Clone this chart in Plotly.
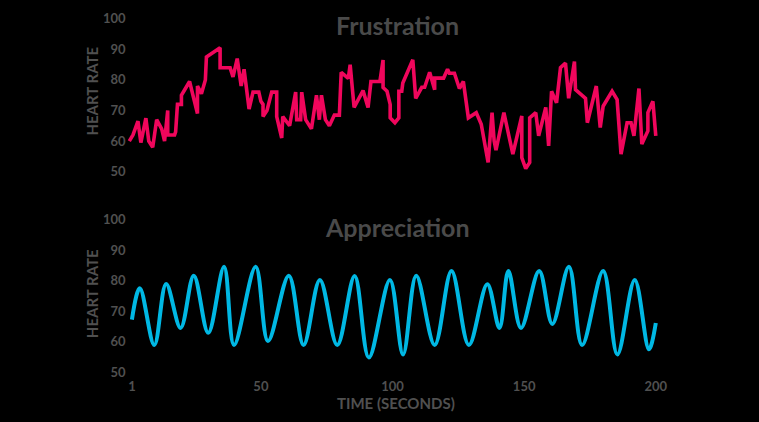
import plotly.graph_objects as go
from plotly.subplots import make_subplots

# ---- data ----
frus_t = [0, 1.4, 3.3, 4.4, 6.3, 7.4, 8.9, 10.4, 12.3, 13.4, 14.6, 14.6, 17.2, 17.6, 18.3, 19.8, 19.8,
          22.9, 25.9, 25.9, 27.4, 28.9, 29.3, 34.5, 34.5, 38.3, 39.4, 41, 42.5, 43.6, 45.5, 47, 49.2,
          50, 50.8, 50.8, 52.3, 54.1, 56, 56, 57.9, 58.3, 60.9, 63.2, 63.6, 65.1, 65.5, 67, 69.2, 71.1,
          72.2, 73, 74.5, 76, 77.9, 79.8, 80.5, 83.2, 83.9, 85.4, 88.8, 90.7, 91.8, 95.2, 96.4, 96.4,
          97.9, 99.1, 99.1, 100.9, 102.4, 102.4, 103.5, 103.9, 107.7, 108.8, 111.1, 112.2, 114.1, 116,
          116, 119.4, 120.9, 121.6, 123.5, 125.4, 126.9, 128.8, 131.8, 133.7, 136.3, 137.8, 138.6,
          139.3, 142.3, 145.7, 149.1, 149.1, 150.6, 152.1, 152.1, 154.4, 155.5, 158.2, 159.3, 160.4,
          162.3, 163.8, 165.7, 166.9, 169.1, 169.5, 173.3, 174, 177.4, 178.9, 180, 183.4, 185.3, 186.8,
          189.1, 190.6, 191.7, 193.6, 194.7, 197, 197, 198.9, 200]
frus_hr = [60, 62, 66.5, 59.5, 67.5, 60, 58, 67, 64, 60, 70, 62, 62, 63, 72, 72, 75,
           79.5, 69, 78, 75.5, 80, 87.5, 90.5, 84, 84, 81, 87, 78, 83.5, 70.5, 76, 76,
           73, 72, 68, 70, 76, 76, 68, 61, 68, 65, 76, 67, 67, 76, 67, 64, 75,
           67, 75, 67, 65, 68.5, 68.5, 82.5, 80.5, 85, 71, 76.5, 71, 79.5, 79.5, 86.5, 77.5,
           76.3, 72, 67.6, 66, 67.6, 76.3, 76.3, 79, 86.6, 74, 77.6, 77.6, 82.5, 76.8,
           80.6, 80.6, 83.5, 82.2, 82.2, 77.2, 79.5, 67.6, 69.3, 65.5, 53, 69.3, 60,
           57, 69.3, 55.7, 68.2, 54.6, 51, 53, 67.6, 69.3, 61.7, 71, 58.4, 76.3,
           72.5, 84, 85.5, 74, 86, 76.8, 74, 66, 78, 64.4, 71.4, 76.3, 73.6, 55.7,
           66, 66, 61.7, 77.2, 59, 63.3, 69.3, 73, 61.7]

appr_t = [1, 4, 9.5, 14, 19.5, 24.5, 30, 36, 39.8, 48, 52.7, 60.6, 66.2, 72.4, 79, 85.6, 91, 99,
          104, 109, 116, 122.4, 129, 136, 140.6, 144, 148.8, 155.7, 160.7, 167, 172, 180, 185.4,
          192, 197.4, 200]
appr_hr = [67.2, 77.5, 58.9, 78.9, 64.5, 81.6, 62.9, 84.5, 58.9, 84.5, 60.2, 81.6, 58.9, 80.2,
           58.9, 81.5, 54.8, 80.2, 55.8, 81.6, 58.9, 83.1, 58.9, 78.8, 64.5, 83.1, 64.5, 83.1,
           65.8, 84.5, 58.9, 83.1, 55.8, 80.2, 57.5, 66.1]

x_ticks = [1, 50, 100, 150, 200]
y_ticks = [50, 60, 70, 80, 90, 100]
titles = ["Frustration", "Appreciation"]
y_title = "HEART RATE"
x_title = "TIME (SECONDS)"

PINK = "#F0065C"
CYAN = "#00B8E4"
GRAY = "#505050"
FONT = "Lato"

fig = make_subplots(rows=2, cols=1)

fig.add_trace(go.Scatter(x=frus_t, y=frus_hr, mode="lines",
                         line=dict(color=PINK, width=3.6)), row=1, col=1)
fig.add_trace(go.Scatter(x=appr_t, y=appr_hr, mode="lines",
                         line=dict(color=CYAN, width=4, shape="spline", smoothing=1.0)),
              row=2, col=1)

xdom = [0.1682, 0.8779]
axis_common = dict(showgrid=False, zeroline=False, showline=False, ticks="")
tickfont = dict(family=FONT, size=13, color=GRAY, weight="bold")
fig.update_layout(
    width=759, height=422,
    paper_bgcolor="black", plot_bgcolor="black",
    margin=dict(l=0, r=0, t=0, b=0),
    showlegend=False,
    font=dict(family=FONT, color=GRAY),
    xaxis=dict(domain=xdom, range=[-1, 202], showticklabels=False, **axis_common),
    xaxis2=dict(domain=xdom, range=[-1, 202], tickvals=x_ticks, tickfont=tickfont,
                ticklabelstandoff=0, **axis_common),
    yaxis=dict(domain=[0.5685, 0.977], range=[47, 103], tickvals=y_ticks,
               tickfont=tickfont, **axis_common),
    yaxis2=dict(domain=[0.1007, 0.4983], range=[48.5, 103], tickvals=y_ticks,
                tickfont=tickfont, **axis_common),
)

# titles and axis titles
ann = []
for txt, ypx in zip(titles, [25, 229]):
    ann.append(dict(text=txt, x=401 / 759, y=1 - ypx / 422, xref="paper", yref="paper",
                    showarrow=False, xanchor="center", yanchor="middle",
                    font=dict(family=FONT, size=25, color="#4a4a4a", weight="bold")))
for ypx in [92, 296]:
    ann.append(dict(text=y_title, x=93 / 759, y=1 - ypx / 422, xref="paper", yref="paper",
                    showarrow=False, textangle=-90, xanchor="center", yanchor="middle",
                    font=dict(family=FONT, size=15, color=GRAY, weight="bold")))
ann.append(dict(text=x_title, x=399 / 759, y=1 - 406 / 422, xref="paper", yref="paper",
                showarrow=False, xanchor="center", yanchor="middle",
                font=dict(family=FONT, size=15, color=GRAY, weight="bold")))
fig.update_layout(annotations=ann)

fig.write_html("out.html")
